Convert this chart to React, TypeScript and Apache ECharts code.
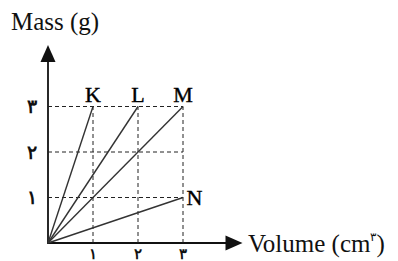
import React, { useEffect, useRef } from "react";
import * as echarts from "echarts";

const tickValues = [1, 2, 3];
const tickLabels = ["۱", "۲", "۳"];
const lineNames = ["K", "L", "M", "N"];
const lineEndX = [1, 2, 3, 3];
const lineEndY = [3, 3, 3, 1];
const gridMax = 3;

const serif = "'Liberation Serif', 'DejaVu Serif', serif";

export default function App() {
  const ref = useRef<HTMLDivElement>(null);
  useEffect(() => {
    if (!ref.current) return;
    const chart = echarts.init(ref.current, undefined, { renderer: "svg" });
    const labelFor = (v: number) => {
      const i = tickValues.indexOf(v);
      return i >= 0 ? tickLabels[i] : "";
    };
    const dashed: any[] = [];
    tickValues.forEach((t) => {
      dashed.push({
        type: "line",
        data: [[0, t], [gridMax, t]],
        symbol: "none",
        silent: true,
        lineStyle: { color: "#222", width: 1, type: [4, 3] },
        z: 1,
      });
      dashed.push({
        type: "line",
        data: [[t, 0], [t, gridMax]],
        symbol: "none",
        silent: true,
        lineStyle: { color: "#222", width: 1, type: [4, 3] },
        z: 1,
      });
    });
    const lines = lineNames.map((name, i) => ({
      type: "line",
      name,
      data: [
        { value: [0, 0], label: { show: false } },
        {
          value: [lineEndX[i], lineEndY[i]],
          label: {
            show: true,
            formatter: name,
            position: name === "N" ? "right" : "top",
            distance: name === "N" ? 3 : 1,
            fontFamily: serif,
            fontSize: 22,
            color: "#000",
            textBorderColor: "#000",
            textBorderWidth: 0.4,
          },
        },
      ],
      symbol: "circle",
      symbolSize: 1,
      showSymbol: true,
      itemStyle: { color: "rgba(0,0,0,0)", borderWidth: 0 },
      lineStyle: { color: "#333", width: 1.4 },
      z: 3,
    }));
    chart.setOption({
      animation: false,
      backgroundColor: "#fff",
      grid: { left: 48, right: 164, top: 53.5, bottom: 18, outerBoundsMode: "none" },
      xAxis: {
        type: "value",
        min: 0,
        max: 4.133,
        interval: 1,
        name: "{a|Volume (cm}{s|۳}{a|)}",
        nameLocation: "end",
        nameGap: 14,
        nameTextStyle: {
          rich: {
            a: { fontFamily: serif, fontSize: 25, color: "#111" },
            s: { fontFamily: serif, fontSize: 12, color: "#111", verticalAlign: "top", padding: [0, 0, 12, 0] },
          },
        },
        axisLine: {
          show: true,
          symbol: ["none", "triangle"],
          symbolSize: [15, 17],
          lineStyle: { color: "#111", width: 1.8 },
        },
        axisTick: { show: false },
        splitLine: { show: false },
        axisLabel: {
          formatter: labelFor,
          margin: 3,
          fontFamily: serif,
          fontSize: 15,
          fontWeight: "bold",
          color: "#111",
          showMaxLabel: false,
        },
      },
      yAxis: {
        type: "value",
        min: 0,
        max: 4.165,
        interval: 1,
        name: "Mass (g)",
        nameLocation: "end",
        nameGap: 20,
        nameTextStyle: { fontFamily: serif, fontSize: 25, color: "#111", padding: [0, 0, 0, 14] },
        axisLine: {
          show: true,
          symbol: ["none", "triangle"],
          symbolSize: [15, 17],
          lineStyle: { color: "#111", width: 1.8 },
        },
        axisTick: { show: false },
        splitLine: { show: false },
        axisLabel: {
          formatter: labelFor,
          margin: 11,
          fontFamily: serif,
          fontSize: 19,
          fontWeight: "bold",
          color: "#111",
          showMaxLabel: false,
        },
      },
      series: [...dashed, ...lines],
    });
    return () => chart.dispose();
  }, []);
  return (
    <div
      ref={ref}
      style={{ position: "fixed", left: 0, top: 0, width: 398, height: 261, background: "#fff" }}
    />
  );
}
